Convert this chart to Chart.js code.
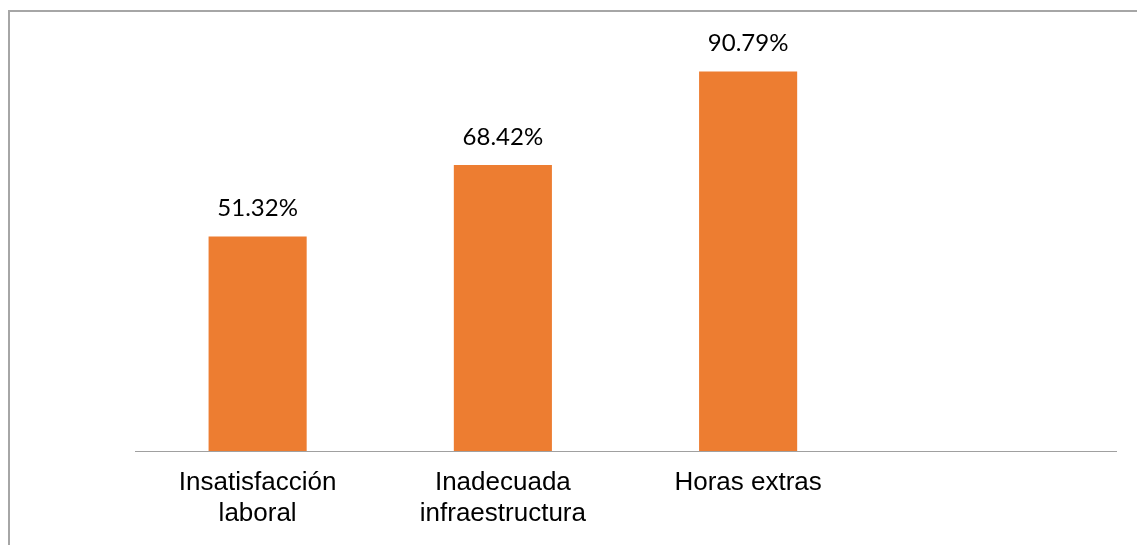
<!DOCTYPE html>
<html>
<head>
<meta charset="utf-8">
<script src="https://cdn.jsdelivr.net/npm/chart.js@4.4.1/dist/chart.umd.min.js"></script>
<style>
    html, body { margin: 0; padding: 0; background: #fff; overflow: hidden; }
    #frame {
        position: absolute; left: 8px; top: 10px; width: 1200px; height: 600px;
        border-top: 2px solid #a6a6a6; border-left: 2px solid #a6a6a6;
    }
    #wrap { position: absolute; left: 0; top: 0; width: 1137px; height: 545px; }
</style>
</head>
<body>
<div id="frame"></div>
<div id="wrap"><canvas id="chart"></canvas></div>
<script>
// Categorías (la cuarta queda vacía, como en el original)
const categorias = [['Insatisfacción', 'laboral'], ['Inadecuada', 'infraestructura'], 'Horas extras', ''];
// Porcentajes de cada causa
const porcentajes = [51.32, 68.42, 90.79, null];

const colorBarra = '#ED7D31';

// Dibuja el valor encima de cada barra
const etiquetasValor = {
    id: 'etiquetasValor',
    afterDatasetsDraw(chart) {
        const ctx = chart.ctx;
        const meta = chart.getDatasetMeta(0);
        ctx.save();
        ctx.font = '24px Lato';
        ctx.fillStyle = '#000';
        ctx.textAlign = 'center';
        ctx.textBaseline = 'middle';
        meta.data.forEach((bar, i) => {
            const v = porcentajes[i];
            if (v == null) return;
            ctx.fillText(v.toFixed(2) + '%', bar.x, bar.y - 28);
        });
        ctx.restore();
    }
};

new Chart(document.getElementById('chart'), {
    type: 'bar',
    data: {
        labels: categorias,
        datasets: [{
            data: porcentajes,
            backgroundColor: colorBarra,
            categoryPercentage: 1,
            barPercentage: 0.4
        }]
    },
    options: {
        responsive: true,
        maintainAspectRatio: false,
        animation: false,
        layout: { padding: { left: 135, right: 21, top: 33, bottom: 0 } },
        plugins: { legend: { display: false }, tooltip: { enabled: false } },
        scales: {
            y: { display: false, min: 0, max: 100 },
            x: {
                grid: { display: false, drawTicks: false },
                border: { display: true, color: '#a0a0a0', width: 1 },
                ticks: {
                    color: '#000',
                    font: { family: 'Liberation Sans', size: 26 },
                    padding: 16,
                    maxRotation: 0,
                    autoSkip: false
                },
                afterFit(scale) { scale.height = 94; }
            }
        }
    },
    plugins: [etiquetasValor]
});
</script>
</body>
</html>
